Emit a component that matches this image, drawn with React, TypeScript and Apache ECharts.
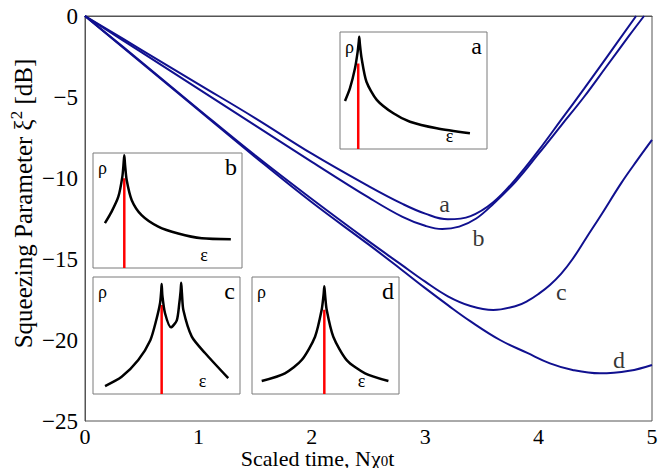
import React, { useEffect, useRef } from "react";
import * as echarts from "echarts";

// ---------- main chart data (scaled time t, squeezing in dB) ----------
const X_TICKS = [0, 1, 2, 3, 4, 5];
const Y_TICKS = [-25, -20, -15, -10, -5, 0];

const curveA: [number, number][] = [
  [0, 0], [0.5, -2.1], [1, -4.2], [1.5, -6.3], [2, -8.5], [2.5, -10.5], [2.8, -11.6],
  [3.0, -12.2], [3.2, -12.55], [3.4, -12.35], [3.6, -11.5], [3.8, -10.05], [4.0, -8.3],
  [4.2, -6.4], [4.4, -4.5], [4.6, -2.55], [4.86, 0],
];
const curveB: [number, number][] = [
  [0, 0], [0.5, -2.25], [1, -4.5], [1.5, -6.75], [2, -9.0], [2.5, -11.2], [2.8, -12.4],
  [3.0, -12.95], [3.15, -13.15], [3.3, -13.0], [3.45, -12.5], [3.6, -11.6], [3.8, -10.2],
  [4.0, -8.5], [4.2, -6.75], [4.4, -5.0], [4.6, -3.1], [4.8, -1.2], [4.93, 0],
];
const curveC: [number, number][] = [
  [0, 0], [0.5, -2.85], [1, -5.75], [1.5, -8.6], [2, -11.3], [2.5, -13.9], [2.78, -15.3],
  [3.0, -16.4], [3.2, -17.3], [3.4, -17.9], [3.6, -18.15], [3.8, -17.9], [3.9, -17.6],
  [4.0, -17.15], [4.1, -16.6], [4.2, -15.9], [4.3, -15.0], [4.42, -13.7], [4.55, -12.3],
  [4.73, -10.3], [4.87, -8.9], [5.0, -7.65],
];
const curveD: [number, number][] = [
  [0, 0], [0.5, -2.9], [1, -5.8], [1.5, -8.7], [2, -11.5], [2.5, -14.1], [2.78, -15.6],
  [3.0, -16.8], [3.2, -17.85], [3.4, -18.85], [3.66, -20.0], [3.9, -20.8], [4.1, -21.44],
  [4.3, -21.85], [4.54, -22.06], [4.8, -21.9], [5.0, -21.54],
];
const CURVE_NAMES = ["a", "b", "c", "d"];
const LABEL_ANCHORS: [number, number][] = [
  [3.17, -11.6], [3.47, -13.7], [4.2, -17.05], [4.71, -21.25],
];

// ---------- inset data (normalised energy eps, density rho) ----------
const insetA: [number, number][] = [
  [0.034, 0.41], [0.068, 0.52], [0.102, 0.69], [0.12, 0.83], [0.128, 0.92], [0.131, 0.96],
  [0.135, 0.9], [0.147, 0.775], [0.18, 0.575], [0.25, 0.42], [0.363, 0.305], [0.476, 0.233],
  [0.658, 0.177], [0.884, 0.134],
];
const insetB: [number, number][] = [
  [0.08, 0.39], [0.125, 0.49], [0.17, 0.62], [0.197, 0.795], [0.206, 0.92], [0.21, 0.98],
  [0.215, 0.9], [0.226, 0.765], [0.26, 0.59], [0.326, 0.46], [0.438, 0.36], [0.572, 0.3],
  [0.73, 0.258], [0.925, 0.25],
];
const insetC: [number, number][] = [
  [0.082, 0.068], [0.195, 0.147], [0.308, 0.29], [0.39, 0.46], [0.43, 0.63], [0.456, 0.775],
  [0.464, 0.88], [0.467, 0.94], [0.472, 0.84], [0.49, 0.69], [0.53, 0.57], [0.57, 0.63],
  [0.587, 0.775], [0.596, 0.88], [0.6, 0.95], [0.605, 0.86], [0.615, 0.715], [0.672, 0.49],
  [0.762, 0.35], [0.92, 0.135],
];
const insetD: [number, number][] = [
  [0.066, 0.111], [0.224, 0.177], [0.338, 0.29], [0.429, 0.49], [0.474, 0.72], [0.487, 0.85],
  [0.492, 0.92], [0.497, 0.85], [0.508, 0.72], [0.553, 0.49], [0.644, 0.29], [0.769, 0.177],
  [0.928, 0.111],
];
const INSET_CURVES = [insetA, insetB, insetC, insetD];
const INSET_MARKERS: [number, number][] = [
  [0.124, 0.73], [0.21, 0.78], [0.467, 0.76], [0.492, 0.72],
];

// layout (pixels) for insets: left, top, width, height
const INSET_BOXES = [
  [340, 32, 147, 117],
  [93, 153, 149, 115],
  [93, 277, 147, 117],
  [252, 277, 147, 117],
];

const SERIF = "Liberation Serif";
const BLUE = "#10108f";

export default function App() {
  const ref = useRef<HTMLDivElement>(null);
  useEffect(() => {
    document.body.style.margin = "0";
    if (!ref.current) return;
    const chart = echarts.init(ref.current, undefined, { renderer: "svg" });

    const grids: any[] = [
      {
        left: 85, right: 16, top: 16, bottom: 47, containLabel: false, outerBoundsMode: "none",
        show: true, borderColor: "#555", borderWidth: 1, backgroundColor: "#fff",
      },
    ];
    const xAxes: any[] = [
      {
        type: "value", gridIndex: 0, min: 0, max: 5, interval: 1,
        axisLine: { show: true, lineStyle: { color: "#555", width: 1 } },
        axisTick: { show: false }, splitLine: { show: false },
        axisLabel: { color: "#000", fontFamily: SERIF, fontSize: 22, margin: 4 },
        name: "Scaled time, N\u03c7{sub|0}t",
        nameLocation: "middle", nameGap: 26, nameMoveOverlap: false,
        nameTextStyle: {
          color: "#000", fontFamily: SERIF, fontSize: 22, padding: [0, 102, 0, 0],
          rich: { sub: { fontFamily: SERIF, fontSize: 15, color: "#000", padding: [6, 0, 0, 0] } },
        },
      },
    ];
    const yAxes: any[] = [
      {
        type: "value", gridIndex: 0, min: -25, max: 0, interval: 5,
        axisLine: { show: true, lineStyle: { color: "#555", width: 1 } },
        axisTick: { show: false }, splitLine: { show: false },
        axisLabel: {
          color: "#000", fontFamily: SERIF, fontSize: 23, margin: 7,
          formatter: (v: number) => String(v).replace("-", "\u2212"),
        },
        name: "Squeezing Parameter \u03be{sup|2} [dB]",
        nameLocation: "middle", nameGap: 47, nameMoveOverlap: false,
        nameTextStyle: {
          color: "#000", fontFamily: SERIF, fontSize: 25, padding: [0, 0, 0, 30],
          rich: { sup: { fontFamily: SERIF, fontSize: 17, color: "#000", padding: [0, 0, 13, 0] } },
        },
      },
    ];

    const series: any[] = [];
    [curveA, curveB, curveC, curveD].forEach((c, i) => {
      series.push({
        type: "line", name: CURVE_NAMES[i], xAxisIndex: 0, yAxisIndex: 0, data: c,
        smooth: 0.4, showSymbol: false, symbol: "none", z: 3,
        lineStyle: { color: BLUE, width: 2 },
      });
    });
    series.push({
      type: "scatter", xAxisIndex: 0, yAxisIndex: 0, symbolSize: 1, z: 4,
      itemStyle: { color: "rgba(0,0,0,0)" },
      data: LABEL_ANCHORS.map((p, i) => ({ value: p, name: CURVE_NAMES[i] })),
      label: {
        show: true, position: "inside", formatter: "{b}",
        color: "#000", fontFamily: SERIF, fontSize: 24,
      },
    });

    const graphics: any[] = [];
    INSET_BOXES.forEach((b, i) => {
      const gi = i + 1;
      grids.push({
        left: b[0], top: b[1], width: b[2], height: b[3], containLabel: false,
        outerBoundsMode: "none",
        show: true, borderColor: "#7a7a7a", borderWidth: 1, backgroundColor: "#fff", z: 5,
      });
      xAxes.push({ type: "value", gridIndex: gi, min: 0, max: 1, show: false });
      yAxes.push({ type: "value", gridIndex: gi, min: 0, max: 1, show: false });
      const m = INSET_MARKERS[i];
      series.push({
        type: "line", xAxisIndex: gi, yAxisIndex: gi, data: [[m[0], 0], [m[0], m[1]]],
        showSymbol: false, symbol: "none", z: 6,
        lineStyle: { color: "#ff0000", width: 2.5 },
      });
      series.push({
        type: "line", xAxisIndex: gi, yAxisIndex: gi, data: INSET_CURVES[i],
        smooth: 0.25, showSymbol: false, symbol: "none", z: 7,
        lineStyle: { color: "#000", width: 2.5 },
      });
      graphics.push({
        type: "text", left: b[0] + 5, top: b[1] + 6, z: 20,
        style: { text: "\u03c1", fontFamily: SERIF, fontSize: 18, fill: "#000" },
      });
      graphics.push({
        type: "text", right: 668 - (b[0] + b[2]) + 5, top: b[1] + 2, z: 20,
        style: { text: CURVE_NAMES[i], fontFamily: SERIF, fontSize: 24, fill: "#000" },
      });
      graphics.push({
        type: "text", left: b[0] + b[2] * 0.72, top: b[1] + b[3] - 22, z: 20,
        style: { text: "\u03b5", fontFamily: SERIF, fontSize: 18, fill: "#000" },
      });
    });

    chart.setOption({
      animation: false,
      backgroundColor: "#fff",
      grid: grids,
      xAxis: xAxes,
      yAxis: yAxes,
      series,
      graphic: graphics,
    });
    return () => chart.dispose();
  }, []);
  return <div ref={ref} style={{ width: 668, height: 468 }} />;
}
